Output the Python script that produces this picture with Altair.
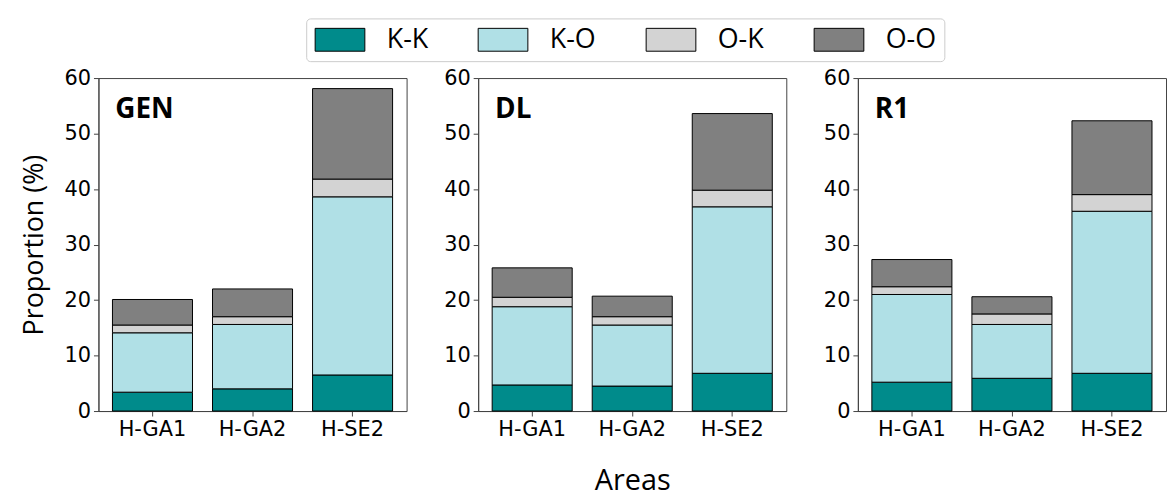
import altair as alt
import pandas as pd

panels = ["GEN", "DL", "R1"]
areas = ["H-GA1", "H-GA2", "H-SE2"]
types = ["K-K", "K-O", "O-K", "O-O"]
colors = ["#008B8B", "#B0E0E6", "#D3D3D3", "#808080"]

gen_kk = [3.4, 4.0, 6.5]
gen_ko = [10.7, 11.6, 32.1]
gen_ok = [1.4, 1.4, 3.2]
gen_oo = [4.6, 5.0, 16.3]

dl_kk = [4.7, 4.5, 6.8]
dl_ko = [14.1, 11.0, 30.0]
dl_ok = [1.7, 1.5, 3.0]
dl_oo = [5.3, 3.7, 13.8]

r1_kk = [5.2, 5.9, 6.8]
r1_ko = [15.8, 9.7, 29.2]
r1_ok = [1.4, 1.9, 3.0]
r1_oo = [4.9, 3.1, 13.3]

y_ticks = [0, 10, 20, 30, 40, 50, 60]

series = {
    "GEN": [gen_kk, gen_ko, gen_ok, gen_oo],
    "DL": [dl_kk, dl_ko, dl_ok, dl_oo],
    "R1": [r1_kk, r1_ko, r1_ok, r1_oo],
}

rows = []
for p in panels:
    for ti, t in enumerate(types):
        for ai, a in enumerate(areas):
            rows.append({"panel": p, "area": a, "type": t, "ord": ti,
                         "value": series[p][ti][ai]})
df = pd.DataFrame(rows)

TICK_FONT = "DejaVu Sans"
LABEL_FONT = "Open Sans"

legend = alt.Legend(
    orient="none", legendX=209, legendY=-60, direction="horizontal", columns=4,
    title=None, symbolType="M-1,-0.92H3V0.92H-1Z", symbolSize=625,
    symbolStrokeColor="black", symbolStrokeWidth=1, symbolOpacity=1,
    labelFont=LABEL_FONT, labelFontSize=27, labelColor="black", labelOffset=46,
    columnPadding=48, padding=8, strokeColor="#cccccc", cornerRadius=4,
    fillColor="white",
)


def panel(name, i):
    d = df[df.panel == name]
    bars = alt.Chart(d).mark_bar(stroke="black", strokeWidth=1, opacity=1).encode(
        x=alt.X("area:N", sort=areas,
                scale=alt.Scale(paddingInner=0.2, paddingOuter=0.14),
                axis=alt.Axis(title="Areas" if i == 1 else None, labelAngle=0,
                              labelFont=TICK_FONT, labelFontSize=21, labelColor="black",
                              tickSize=5, tickColor="#444", domainColor="#444",
                              labelPadding=3, titleFont=LABEL_FONT, titleFontSize=29,
                              titleFontWeight="normal", titleColor="black",
                              titlePadding=27)),
        y=alt.Y("value:Q", stack="zero",
                scale=alt.Scale(domain=[0, 60], nice=False),
                axis=alt.Axis(values=y_ticks, grid=False,
                              title="Proportion (%)" if i == 0 else None,
                              labelFont=TICK_FONT, labelFontSize=21, labelColor="black",
                              tickSize=5, tickColor="#444", domainColor="#444",
                              labelPadding=3, titleFont=LABEL_FONT, titleFontSize=27,
                              titleFontWeight="normal", titleColor="black",
                              titlePadding=16)),
        color=alt.Color("type:N", scale=alt.Scale(domain=types, range=colors),
                        legend=legend),
        order=alt.Order("ord:Q"),
    )
    label = alt.Chart(pd.DataFrame({"t": [name]})).mark_text(
        font=LABEL_FONT, fontSize=28, fontWeight="bold", align="left",
        baseline="alphabetic", color="black"
    ).encode(text="t:N", x=alt.value(17), y=alt.value(40))
    return alt.layer(bars, label).properties(width=310, height=335)


chart = alt.hconcat(
    *[panel(p, i) for i, p in enumerate(panels)], spacing=35
).resolve_scale(color="shared").resolve_legend(color="shared").properties(
    padding={"left": 11, "right": 0, "top": 8, "bottom": 0}
).configure_view(stroke="#444", strokeWidth=1)

chart.save("out.html", embed_options={"renderer": "svg", "actions": False})
